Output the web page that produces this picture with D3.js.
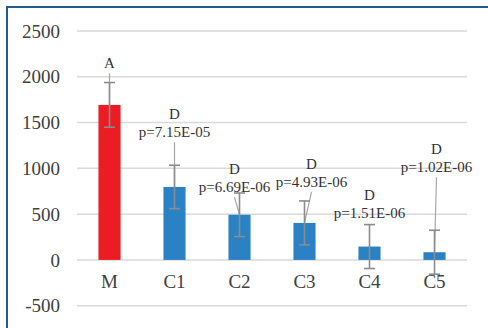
<!DOCTYPE html>
<html><head><meta charset="utf-8">
<script src="https://cdn.jsdelivr.net/npm/d3@7"></script>
<style>html,body{margin:0;padding:0;background:#fff;}svg{display:block;}</style>
</head><body>
<script>
// ---- data ----
const categories = ["M", "C1", "C2", "C3", "C4", "C5"];
const values = [1693, 797, 493, 404, 146, 84];
const errors = [244, 237, 238, 240, 240, 240];
const letters = ["A", "D", "D", "D", "D", "D"];
const pLabels = [null, "p=7.15E-05", "p=6.69E-06", "p=4.93E-06", "p=1.51E-06", "p=1.02E-06"];
const yTicks = [-500, 0, 500, 1000, 1500, 2000, 2500];

// ---- layout (label placement, in data units / px offsets) ----
const labelAt = [2148, 1591, 991, 1045, 707, 1209];
const labelDx = [0, 0, -5, 7, 0, 2];
const showLeader = [true, true, true, true, false, true];

const W = 488, H = 328;
const FONT = "'Liberation Serif','Times New Roman',serif";
const svg = d3.select("body").append("svg").attr("width", W).attr("height", H);

// frame
svg.append("path").attr("d", `M7,${H} L7,7 L${W},7`)
  .attr("fill", "none").attr("stroke", "#245B8C").attr("stroke-width", 2);

const x = d3.scaleBand().domain(categories).range([77, 467]).paddingInner(0.66).paddingOuter(0.33);
const y = d3.scaleLinear().domain([-500, 2500]).range([305.7, 31]);

// gridlines
svg.append("g").selectAll("line").data(yTicks).join("line")
  .attr("x1", 77).attr("x2", 467)
  .attr("y1", d => y(d)).attr("y2", d => y(d))
  .attr("stroke", "#d9d9d9").attr("stroke-width", 1.5);

// y axis labels
const yAxis = d3.axisLeft(y).tickValues(yTicks).tickFormat(d => String(d)).tickSize(0).tickPadding(0);
const ya = svg.append("g").attr("transform", "translate(60,0)").call(yAxis);
ya.select(".domain").remove();
ya.attr("font-family", FONT);
ya.selectAll("text").attr("font-family", FONT).attr("font-size", 19).attr("fill", "#404040");

// bars
const cx = d => x(d) + x.bandwidth() / 2;
svg.append("g").selectAll("rect").data(categories).join("rect")
  .attr("x", d => x(d)).attr("width", x.bandwidth())
  .attr("y", (d, i) => y(Math.max(0, values[i])))
  .attr("height", (d, i) => Math.abs(y(values[i]) - y(0)))
  .attr("fill", (d, i) => i === 0 ? "#EC1C24" : "#2A82C4");

// x axis labels
const xAxis = d3.axisBottom(x).tickSize(0).tickPadding(0);
const xa = svg.append("g").attr("transform", `translate(0,${y(0) + 15})`).call(xAxis);
xa.select(".domain").remove();
xa.attr("font-family", FONT);
xa.selectAll("text").attr("font-family", FONT).attr("font-size", 19).attr("fill", "#404040");

// leader lines
const lead = svg.append("g");
categories.forEach((c, i) => {
  if (!showLeader[i]) return;
  const lx = cx(c) + labelDx[i];
  const ly = y(labelAt[i]) + (pLabels[i] ? 18 : 0) + 10;
  lead.append("line").attr("x1", lx).attr("y1", ly)
    .attr("x2", cx(c)).attr("y2", y(values[i]))
    .attr("stroke", "#a6a6a6").attr("stroke-width", 1.2);
});

// error bars
const eb = svg.append("g").attr("stroke", "#8c8c8c").attr("stroke-width", 1.6);
categories.forEach((c, i) => {
  const top = y(values[i] + errors[i]), bot = y(values[i] - errors[i]);
  eb.append("line").attr("x1", cx(c)).attr("x2", cx(c)).attr("y1", top).attr("y2", bot);
  eb.append("line").attr("x1", cx(c) - 5.5).attr("x2", cx(c) + 5.5).attr("y1", top).attr("y2", top);
  eb.append("line").attr("x1", cx(c) - 5.5).attr("x2", cx(c) + 5.5).attr("y1", bot).attr("y2", bot);
});

// data labels
const lab = svg.append("g").attr("font-family", FONT)
  .attr("font-size", 15).attr("fill", "#333").attr("text-anchor", "middle");
categories.forEach((c, i) => {
  const lx = cx(c) + labelDx[i];
  const ly = y(labelAt[i]);
  lab.append("text").attr("x", lx).attr("y", ly).attr("dy", "0.35em").text(letters[i]);
  if (pLabels[i]) lab.append("text").attr("x", lx).attr("y", ly + 18).attr("dy", "0.35em").text(pLabels[i]);
});
</script>
</body></html>
